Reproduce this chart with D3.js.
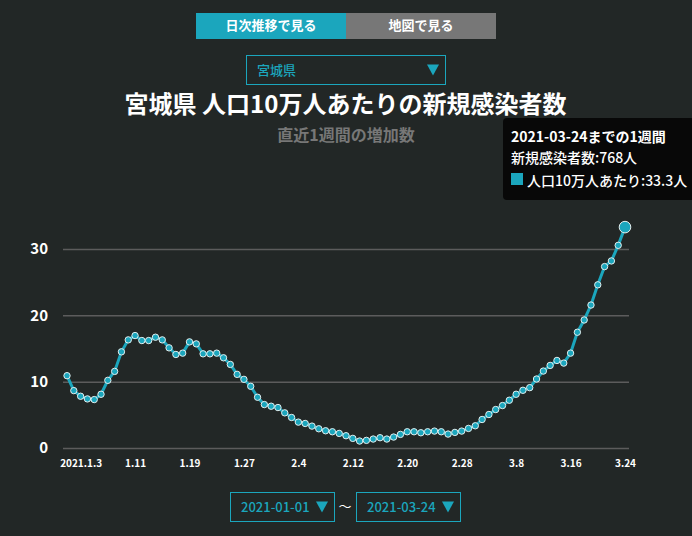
<!DOCTYPE html>
<html>
<head>
<meta charset="utf-8">
<script src="https://cdn.jsdelivr.net/npm/d3@7"></script>
<style>
html, body { margin: 0; padding: 0; background: #222726; overflow: hidden; }
svg { display: block; }
text { font-family: "Noto Sans CJK JP", "Noto Sans", sans-serif; }
</style>
</head>
<body>
<div id="container"></div>
<script>
var startDate = "2021-01-01";
var endDate = "2021-03-24";

// per 100k, one value a day from Jan 1
var values = [
    10.9, 8.65, 7.8, 7.4, 7.3, 8.1, 10.2, 11.55, 14.5, 16.3,
    16.95, 16.2, 16.2, 16.7, 16.3, 15.1, 14.1, 14.3, 16.0, 15.7,
    14.2, 14.2, 14.3, 13.6, 12.6, 11.1, 10.35, 9.3, 7.65, 6.55,
    6.3, 6.1, 5.3, 4.6, 3.9, 3.7, 3.3, 2.9, 2.6, 2.45,
    2.2, 1.85, 1.45, 1.05, 1.15, 1.35, 1.55, 1.35, 1.65, 2.05,
    2.45, 2.45, 2.3, 2.45, 2.55, 2.45, 2.1, 2.35, 2.55, 2.95,
    3.35, 4.3, 5.05, 5.8, 6.4, 7.2, 8.1, 8.7, 9.1, 10.4,
    11.6, 12.45, 13.2, 12.8, 14.3, 17.45, 19.3, 21.55, 24.6, 27.35,
    28.2, 30.55, 33.3
];

var xTickDates = ["2021-01-03", "2021-01-11", "2021-01-19", "2021-01-27", "2021-02-04", "2021-02-12",
    "2021-02-20", "2021-02-28", "2021-03-08", "2021-03-16", "2021-03-24"];
var xTickLabels = ["2021.1.3", "1.11", "1.19", "1.27", "2.4", "2.12", "2.20", "2.28", "3.8", "3.16", "3.24"];
var yTicks = [0, 10, 20, 30];

var tabs = ["日次推移で見る", "地図で見る"];
var tabColors = ["#1ba6bd", "#777777"];

var teal = "#1ba6bd";
var width = 692, height = 536;

var days = d3.utcDay.range(new Date(startDate), d3.utcDay.offset(new Date(endDate), 1));
var tickDates = xTickDates.map(function(d){ return new Date(d); });

var x = d3.scaleUtc().domain([new Date(startDate), new Date(endDate)]).range([67, 625]);
var y = d3.scaleLinear().domain([0, 30]).range([448, 249]);

var svg = d3.select("#container").append("svg")
    .attr("width", width)
    .attr("height", height);

// tabs
tabs.forEach(function(t, i){
    svg.append("rect")
        .attr("x", 196 + i * 150).attr("y", 13)
        .attr("width", 150).attr("height", 26)
        .attr("fill", tabColors[i]);
    svg.append("text")
        .attr("x", 271 + i * 150).attr("y", 30)
        .attr("text-anchor", "middle")
        .attr("fill", "#fff")
        .attr("font-size", 13)
        .attr("font-weight", 700)
        .text(t);
});

// dropdown helper
var dropdown = function(bx, by, w, h, label, fs, tx){
    svg.append("rect")
        .attr("x", bx + 0.5).attr("y", by + 0.5)
        .attr("width", w - 1).attr("height", h - 1)
        .attr("fill", "none")
        .attr("stroke", teal);
    svg.append("text")
        .attr("x", bx + tx).attr("y", by + h / 2 + fs * 0.36)
        .attr("fill", teal)
        .attr("font-size", fs)
        .attr("font-weight", 500)
        .text(label);
    var cx = bx + w - 13;
    var cy = by + h / 2;
    svg.append("path")
        .attr("d", "M" + (cx - 6) + "," + (cy - 5.5) + "H" + (cx + 6) + "L" + cx + "," + (cy + 5.5) + "Z")
        .attr("fill", teal);
};

dropdown(246, 55, 200, 30, "宮城県", 13, 11);
dropdown(230, 492, 105, 30, startDate, 13, 11);
dropdown(356, 492, 105, 30, endDate, 13, 11);

svg.append("text")
    .attr("x", 345).attr("y", 511)
    .attr("text-anchor", "middle")
    .attr("fill", "#fff")
    .attr("font-size", 13)
    .text("〜");

// titles
svg.append("text")
    .attr("x", 345.5).attr("y", 113)
    .attr("text-anchor", "middle")
    .attr("fill", "#fff")
    .attr("font-size", 24)
    .attr("font-weight", 700)
    .text("宮城県 人口10万人あたりの新規感染者数");

svg.append("text")
    .attr("x", 346).attr("y", 141)
    .attr("text-anchor", "middle")
    .attr("fill", "#777")
    .attr("font-size", 16)
    .attr("font-weight", 700)
    .text("直近1週間の増加数");

// y axis + grid
var yAxis = svg.append("g")
    .attr("transform", "translate(63,0)")
    .call(d3.axisLeft(y).tickValues(yTicks).tickSize(-566).tickPadding(7));
yAxis.select(".domain").remove();
yAxis.selectAll("line").attr("stroke", "#5c5c5c").attr("stroke-width", 1.5);
yAxis.selectAll("text")
    .attr("x", -15)
    .attr("fill", "#fff")
    .attr("font-size", 15)
    .attr("font-weight", 700);

// x axis
var xAxis = svg.append("g")
    .attr("transform", "translate(0,448)")
    .call(d3.axisBottom(x).tickValues(tickDates).tickSize(0).tickPadding(12)
        .tickFormat(function(d, i){ return xTickLabels[i]; }));
xAxis.select(".domain").remove();
xAxis.selectAll("text")
    .attr("fill", "#fff")
    .attr("font-size", 10)
    .attr("font-weight", 700);

// line and dots
var line = d3.line()
    .x(function(d, i){ return x(days[i]); })
    .y(function(d){ return y(d); });

svg.append("path")
    .datum(values)
    .attr("d", line)
    .attr("fill", "none")
    .attr("stroke", teal)
    .attr("stroke-width", 3);

svg.selectAll("circle.dot")
    .data(values)
    .enter().append("circle")
    .attr("class", "dot")
    .attr("cx", function(d, i){ return x(days[i]); })
    .attr("cy", function(d){ return y(d); })
    .attr("r", function(d, i){ return i == values.length - 1 ? 5.8 : 3.2; })
    .attr("fill", teal)
    .attr("stroke", "#e4eeee")
    .attr("stroke-width", 1);

// tooltip
var tip = svg.append("g").attr("transform", "translate(503,118)");
tip.append("rect")
    .attr("width", 195).attr("height", 82)
    .attr("rx", 4)
    .attr("fill", "#080808");
tip.append("text")
    .attr("x", 8).attr("y", 23.5)
    .attr("fill", "#fff")
    .attr("font-size", 14)
    .attr("font-weight", 700)
    .text("2021-03-24までの1週間");
tip.append("text")
    .attr("x", 8).attr("y", 45)
    .attr("fill", "#fff")
    .attr("font-size", 14)
    .attr("font-weight", 500)
    .text("新規感染者数:768人");
tip.append("rect")
    .attr("x", 8).attr("y", 55)
    .attr("width", 12).attr("height", 12)
    .attr("fill", teal);
tip.append("text")
    .attr("x", 24).attr("y", 68)
    .attr("fill", "#fff")
    .attr("font-size", 14)
    .attr("font-weight", 500)
    .text("人口10万人あたり:33.3人");
</script>
</body>
</html>
